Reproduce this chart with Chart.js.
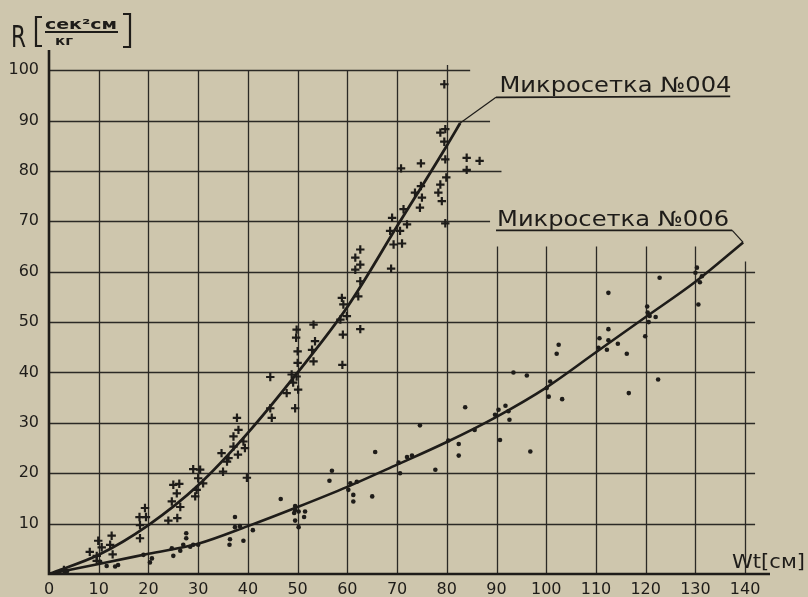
<!DOCTYPE html>
<html><head><meta charset="utf-8">
<script src="https://cdn.jsdelivr.net/npm/chart.js@4.4.1/dist/chart.umd.min.js"></script>
<style>html,body{margin:0;padding:0;background:#cec6ad;}#wrap{width:808px;height:597px;}</style>
</head><body><div id="wrap"><canvas id="c" width="808" height="597"></canvas></div>
<script>
// ---- tick labels ----
const xTicks = [0,10,20,30,40,50,60,70,80,90,100,110,120,130,140];
const yTicks = [10,20,30,40,50,60,70,80,90,100];

// ---- fitted curves ----
const curve004X = [0,10,20,30,40,50,60,70,80,82.7];
const curve004Y = [0,3.8,9.7,17.6,28,40,53,69,85,89.5];
const curve006X = [0,10,20,30,40,50,60,70,80,90,100,110,120,130,139.6];
const curve006Y = [0,2,4,6,9.5,13.3,17.3,21.7,26.2,31.2,37,44,51,58,65.8];

// ---- measured points, Микросетка №004 (crosses) ----
const pts004X = [3,9.9,8.2,9.6,10.6,9.6,12.6,12.3,12.8,18.2,19.3,18.3,19.5,18.3,24.7,25.7,26.2,25,24,25.8,26.4,
  29,30.4,30,31,29.4,29.7,34.7,35.8,37.1,38,39.4,35,39.8,37.8,38.1,37.1,39.1,36.1,44.5,44.5,44.8,
  47.8,48.8,49.8,49.1,50.1,49.5,49.8,49.7,50,50,53.2,53.5,52.9,53.2,58.9,59.2,59.9,58.6,59.1,62.6,59,
  61.6,62.6,62.6,61.6,62.6,62.2,68.8,69,68.6,69.3,70.6,71,71.3,72,70.8,74.8,73.6,74.8,75,74.6,
  78.7,79.7,79.5,79.7,78.7,79.9,78.3,79,79.7,79.5,84,84,86.6];
const pts004Y = [0.8,6.6,4.4,3.6,5.3,2.6,7.6,5.8,3.9,11.3,13.1,9.7,11.3,7.1,14.4,16,17.9,17.7,10.6,11.1,13.3,
  20.8,20.7,19,18,15.4,16.7,24,22.3,25.3,23.7,25,20.3,19.1,31,28.6,27.3,26.3,23,39.1,32.9,31,
  35.9,39.6,39.2,38,36.6,32.9,48.5,46.9,44.2,41.9,49.5,46.2,44.5,42.2,54.8,53.5,51.2,50.5,47.5,48.6,41.5,
  62.8,64.4,61.4,60.4,58.1,55.1,60.6,70.7,68.1,65.4,68.1,65.6,72.4,69.4,80.5,81.5,75.7,77,74.7,72.7,
  87.6,88.3,85.8,82.3,77.3,78.7,75.7,74,69.6,97.2,82.6,80.2,82];

// ---- measured points, Микросетка №006 (dots) ----
const pts006X = [3.6,10.3,11.6,13.3,13.9,19,20.7,20.3,25,24.7,26.4,27,27.6,27.6,28.4,29,30,
  37.4,37.4,38.4,41,36.4,36.3,39.1,46.6,49.5,49.5,50.2,51.5,51.3,49.3,49.5,50.2,
  56.9,56.4,60.6,61.9,60.2,61.2,61.2,65,65.6,70.3,72,73,70.6,74.6,77.7,
  80.3,82.4,82.4,83.7,85.6,89.7,90.4,91.8,92.4,92.6,90.7,93.4,96.1,96.8,
  100.1,100.8,100.5,103.2,102.5,102.1,110.7,112.5,114.4,110.5,112.2,112.5,116.2,112.5,116.6,
  119.9,120.3,120.4,120.8,122,120.6,122.5,122.8,130.3,130,131.3,130.9,130.6];
const pts006Y = [0.5,2.4,1.6,1.5,1.8,3.8,3.1,2.3,3.6,5.1,4.6,5.8,7.1,8.1,5.4,5.8,5.8,
  11.3,9.3,9.5,8.7,6.9,5.8,6.6,14.9,13.5,12.7,12.4,12.4,11.3,12.1,10.6,9.3,
  20.5,18.5,18,18.3,16.7,15.7,14.4,15.4,24.2,22.1,23.2,23.5,20,29.5,20.7,
  26.5,25.8,23.5,33.1,28.6,31.6,32.6,33.4,32.3,30.6,26.6,40,39.4,24.3,
  36.9,38.2,35.2,34.7,45.5,43.7,46.8,46.4,45.7,44.9,44.5,48.6,43.7,55.8,35.9,
  47.2,53.1,51.9,51.2,51,50,38.6,58.8,60.8,59.8,59.1,57.9,53.5];

// ---- texts ----
const label004 = 'Микросетка №004';
const label006 = 'Микросетка №006';
const yTitleMain = 'R';
const yTitleNum = 'сек²см';
const yTitleDen = 'кг';
const xTitle = 'Wt[см]';

const INK = '#1e1c19';
const PAPER = '#cec6ad';
const FONT = '"DejaVu Sans", sans-serif';

const zip = (xs, ys) => xs.map((x, i) => ({x, y: ys[i]}));

// grid extents (in data units): [value, from, to]
const hGrid = [[10,0,142],[20,0,142],[30,0,142],[40,0,142],[50,0,142],[60,0,142],[70,0,88.7],[80,0,91],[90,0,88.7],[100,0,84.7]];
const vGrid = [[10,0,100],[20,0,100],[30,0,100],[40,0,100],[50,0,100],[60,0,100],[70,0,100],[80,0,101],[90,0,65],[100,0,65],[110,0,65],[120,0,65],[130,0,65],[140,0,62]];

function fitText(ctx, text, x, y, font, width) {
  ctx.save();
  ctx.font = font;
  const w = ctx.measureText(text).width;
  ctx.translate(x, y);
  ctx.scale(width / w, 1);
  ctx.fillText(text, 0, 0);
  ctx.restore();
}

const paperPlugin = {
  id: 'paper',
  beforeDraw(chart) {
    const ctx = chart.ctx;
    ctx.save();
    ctx.fillStyle = PAPER;
    ctx.fillRect(0, 0, chart.width, chart.height);
    ctx.restore();
  },
  beforeDatasetsDraw(chart) {
    const ctx = chart.ctx, xs = chart.scales.x, ys = chart.scales.y;
    ctx.save();
    ctx.strokeStyle = '#2b2925';
    ctx.lineWidth = 1.3;
    hGrid.forEach(([v, a, b]) => {
      const py = Math.round(ys.getPixelForValue(v)) + 0.5;
      ctx.beginPath(); ctx.moveTo(xs.getPixelForValue(a), py); ctx.lineTo(xs.getPixelForValue(b), py); ctx.stroke();
    });
    vGrid.forEach(([v, a, b]) => {
      const px = Math.round(xs.getPixelForValue(v)) + 0.5;
      ctx.beginPath(); ctx.moveTo(px, ys.getPixelForValue(a)); ctx.lineTo(px, ys.getPixelForValue(b)); ctx.stroke();
    });
    // axes
    ctx.strokeStyle = INK;
    ctx.lineWidth = 2.6;
    ctx.beginPath();
    ctx.moveTo(xs.getPixelForValue(0), ys.getPixelForValue(104));
    ctx.lineTo(xs.getPixelForValue(0), ys.getPixelForValue(0));
    ctx.lineTo(xs.getPixelForValue(145), ys.getPixelForValue(0));
    ctx.stroke();
    ctx.restore();
  },
  afterDatasetsDraw(chart) {
    const ctx = chart.ctx, xs = chart.scales.x, ys = chart.scales.y;
    const X = v => xs.getPixelForValue(v), Y = v => ys.getPixelForValue(v);
    ctx.save();
    ctx.fillStyle = INK;
    ctx.strokeStyle = INK;
    // label 004
    ctx.lineWidth = 1.2;
    ctx.beginPath(); ctx.moveTo(X(82.7), Y(89.5)); ctx.lineTo(X(89.9), Y(94.6)); ctx.stroke();
    ctx.lineWidth = 1.8;
    ctx.beginPath(); ctx.moveTo(X(89.9), Y(94.6)); ctx.lineTo(X(137), Y(94.8)); ctx.stroke();
    fitText(ctx, label004, X(90.6), Y(95.7), '21px ' + FONT, 232);
    // label 006
    ctx.lineWidth = 1.8;
    ctx.beginPath(); ctx.moveTo(X(89.9), Y(68.2)); ctx.lineTo(X(137.4), Y(68.2)); ctx.stroke();
    ctx.lineWidth = 1.2;
    ctx.beginPath(); ctx.moveTo(X(137.4), Y(68.2)); ctx.lineTo(X(139.6), Y(65.8)); ctx.stroke();
    fitText(ctx, label006, X(90.1), Y(69.1), '21px ' + FONT, 232);
    // y title
    fitText(ctx, yTitleMain, 11, 47, '30px ' + FONT, 15);
    ctx.lineWidth = 2.2;
    ctx.beginPath(); ctx.moveTo(42, 17); ctx.lineTo(36, 17); ctx.lineTo(36, 46); ctx.lineTo(42, 46); ctx.stroke();
    ctx.beginPath(); ctx.moveTo(123, 14); ctx.lineTo(130, 14); ctx.lineTo(130, 47); ctx.lineTo(123, 47); ctx.stroke();
    fitText(ctx, yTitleNum, 45, 29, 'bold 14px ' + FONT, 72);
    ctx.lineWidth = 2;
    ctx.beginPath(); ctx.moveTo(45, 32); ctx.lineTo(118, 32); ctx.stroke();
    fitText(ctx, yTitleDen, 55, 45, 'bold 12px ' + FONT, 18);
    // x title
    fitText(ctx, xTitle, 732, 568, '20px ' + FONT, 73);
    ctx.restore();
  }
};

new Chart(document.getElementById('c'), {
  type: 'scatter',
  data: {
    datasets: [
      { data: zip(curve004X, curve004Y), showLine: true, borderColor: INK, borderWidth: 2.8, pointRadius: 0, cubicInterpolationMode: 'monotone', fill: false },
      { data: zip(curve006X, curve006Y), showLine: true, borderColor: INK, borderWidth: 2.6, pointRadius: 0, cubicInterpolationMode: 'monotone', fill: false },
      { data: zip(pts004X, pts004Y), pointStyle: 'cross', pointRadius: 4.2, borderColor: INK, borderWidth: 2.2, backgroundColor: INK },
      { data: zip(pts006X, pts006Y), pointStyle: 'circle', pointRadius: 2.3, borderWidth: 0, backgroundColor: INK }
    ]
  },
  options: {
    responsive: false,
    animation: false,
    events: [],
    layout: { padding: { top: 50, right: 38, left: 0, bottom: 0 } },
    plugins: { legend: { display: false }, tooltip: { enabled: false } },
    scales: {
      x: {
        type: 'linear', min: 0, max: 145,
        grid: { display: false, drawTicks: false },
        border: { display: false },
        afterBuildTicks: s => { s.ticks = xTicks.map(v => ({ value: v })); },
        afterFit: s => { s.height = 23; },
        ticks: { color: INK, font: { family: FONT, size: 16 }, padding: 6, maxRotation: 0, autoSkip: false }
      },
      y: {
        type: 'linear', min: 0, max: 104,
        grid: { display: false, drawTicks: false },
        border: { display: false },
        afterBuildTicks: s => { s.ticks = yTicks.map(v => ({ value: v })); },
        afterFit: s => { s.width = 49; },
        ticks: { color: INK, font: { family: FONT, size: 16 }, padding: 10, autoSkip: false }
      }
    }
  },
  plugins: [paperPlugin]
});
</script>
</body></html>
